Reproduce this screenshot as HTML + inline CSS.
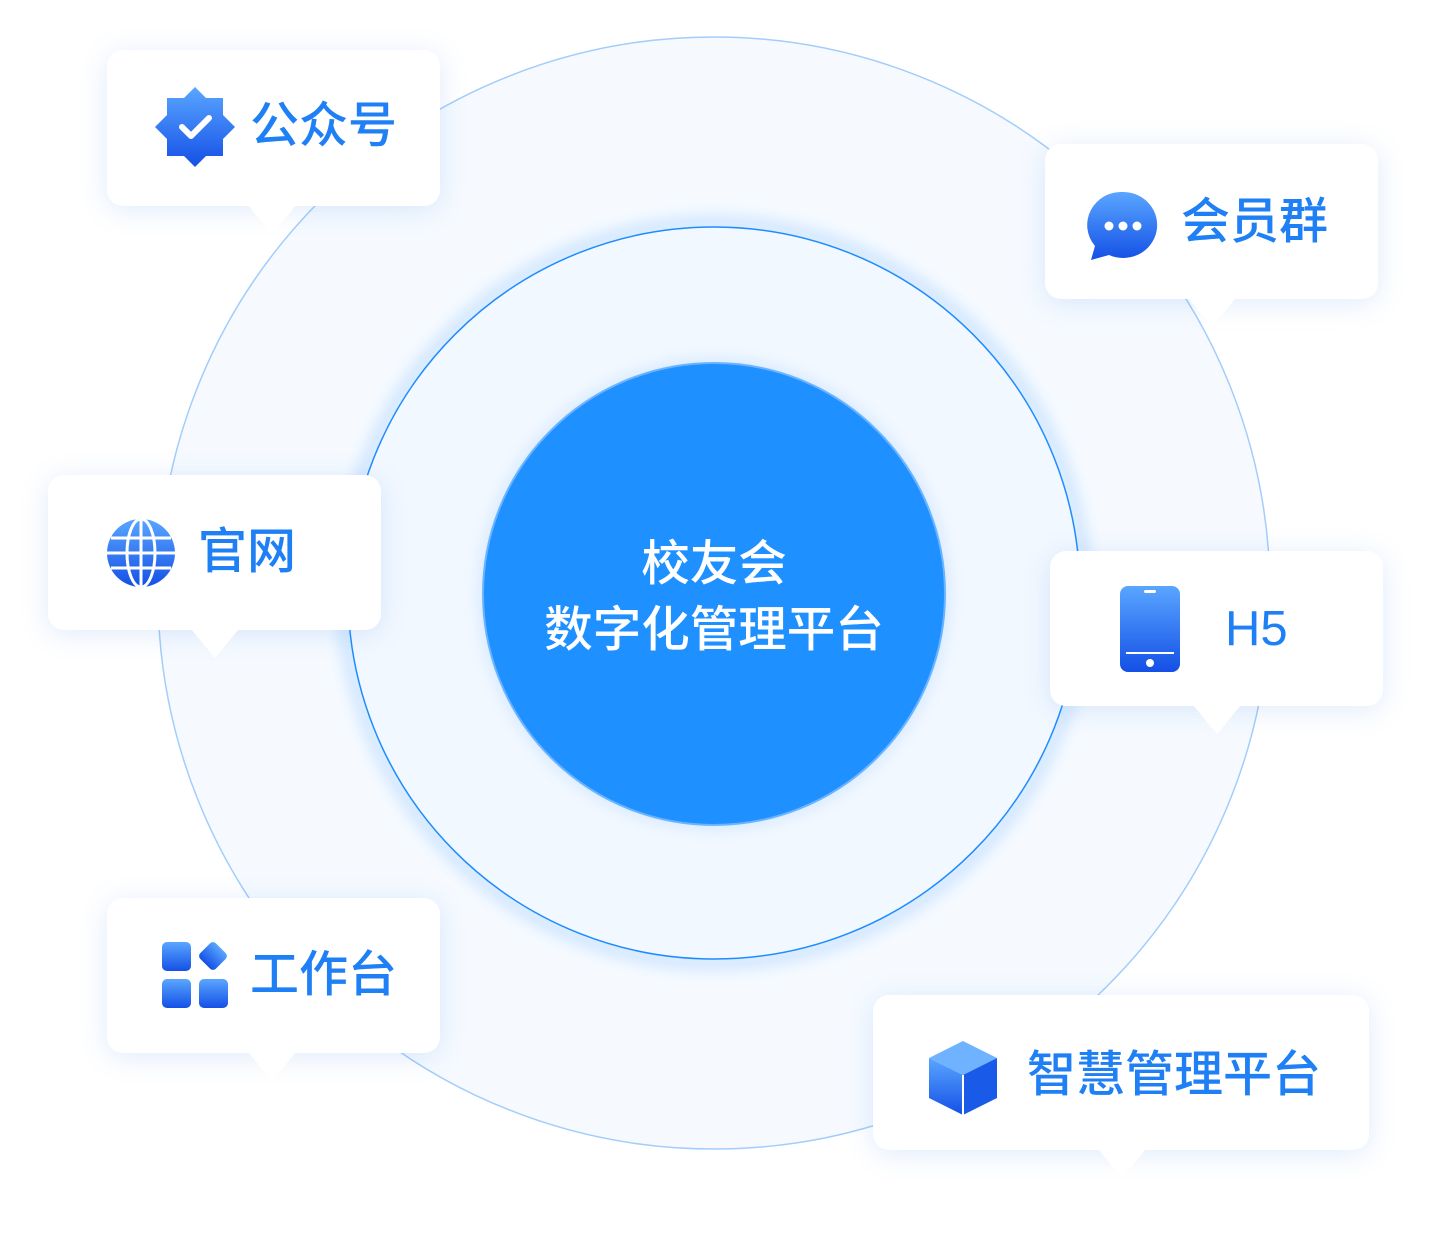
<!DOCTYPE html>
<html><head><meta charset="utf-8"><style>
html,body{margin:0;padding:0;background:#fff;}
body{width:1432px;height:1235px;position:relative;overflow:hidden;font-family:"Liberation Sans","Noto Sans CJK SC",sans-serif;}
.card{position:absolute;background:#fff;border-radius:16px;box-shadow:0 4px 28px rgba(60,130,230,0.16);}
.card:after{content:"";position:absolute;bottom:-28px;left:var(--px);margin-left:-24px;border-left:24px solid transparent;border-right:24px solid transparent;border-top:29px solid #fff;}
.lbl{position:absolute;color:#1f7ff5;font-size:49px;font-weight:500;line-height:1;white-space:nowrap;}
.ic{position:absolute;}
</style></head><body>
<svg width="1432" height="1235" style="position:absolute;left:0;top:0">
<defs>
<filter id="gl" x="-20%" y="-20%" width="140%" height="140%"><feGaussianBlur stdDeviation="8"/></filter>
<linearGradient id="g" x1="0" y1="0" x2="0" y2="1"><stop offset="0" stop-color="#5aa6ff"/><stop offset="1" stop-color="#1450e6"/></linearGradient>
</defs>
<circle cx="714" cy="593" r="556" fill="#f6faff" stroke="#a3cdfb" stroke-width="1.5"/>
<circle cx="714" cy="593" r="370" fill="none" stroke="#bcdcff" stroke-width="10" filter="url(#gl)"/>
<circle cx="714" cy="593" r="366" fill="#f2f8ff" stroke="#1e8cff" stroke-width="1.5"/>
<circle cx="714" cy="594" r="235" fill="#d4e8ff" filter="url(#gl)"/>
<circle cx="714" cy="594" r="231" fill="#1e90ff" stroke="#6ab4ff" stroke-width="2"/>
<text x="714" y="580" text-anchor="middle" fill="#fff" font-size="48.5" font-weight="500" font-family="Liberation Sans,Noto Sans CJK SC,sans-serif">校友会</text>
<text x="714" y="646" text-anchor="middle" fill="#fff" font-size="48.5" font-weight="500" font-family="Liberation Sans,Noto Sans CJK SC,sans-serif">数字化管理平台</text>
</svg>

<div class="card" style="left:107px;top:50px;width:333px;height:156px;--px:165px"></div>
<div class="card" style="left:1045px;top:144px;width:333px;height:155px;--px:167px"></div>
<div class="card" style="left:48px;top:475px;width:333px;height:155px;--px:167px"></div>
<div class="card" style="left:1050px;top:551px;width:333px;height:155px;--px:167px"></div>
<div class="card" style="left:107px;top:898px;width:333px;height:155px;--px:165px"></div>
<div class="card" style="left:873px;top:995px;width:496px;height:155px;--px:249px"></div>

<svg class="ic" style="left:154px;top:86px" width="82" height="82" viewBox="0 0 82 82"><polygon points="41,1 52,12 69,12 69,29 81,41 69,53 69,70 52,70 41,81 30,70 13,70 13,53 1,41 13,29 13,12 30,12" fill="url(#g)"/><polyline points="28,41 37,50 55,32" fill="none" stroke="#fff" stroke-width="6" stroke-linecap="round" stroke-linejoin="round"/></svg>
<div class="lbl" style="left:250px;top:102px">公众号</div>

<svg class="ic" style="left:1087px;top:190px" width="72" height="72" viewBox="0 0 72 72"><path d="M36 2a34 33 0 1 1-14 63L4 70l4-14A34 33 0 0 1 36 2z" fill="url(#g)"/><circle cx="22" cy="36" r="4.5" fill="#fff"/><circle cx="36" cy="36" r="4.5" fill="#fff"/><circle cx="50" cy="36" r="4.5" fill="#fff"/></svg>
<div class="lbl" style="left:1181px;top:198px">会员群</div>

<svg class="ic" style="left:106px;top:518px" width="70" height="70" viewBox="0 0 70 70"><circle cx="35" cy="35" r="34" fill="url(#g)"/><g fill="none" stroke="#fff" stroke-width="3"><ellipse cx="35" cy="35" rx="14" ry="34"/><line x1="35" y1="1" x2="35" y2="69"/><line x1="1" y1="35" x2="69" y2="35"/><line x1="5" y1="20" x2="65" y2="20"/><line x1="5" y1="50" x2="65" y2="50"/></g></svg>
<div class="lbl" style="left:198px;top:528px">官网</div>

<svg class="ic" style="left:1120px;top:586px" width="60" height="86" viewBox="0 0 60 86"><rect x="0" y="0" width="60" height="86" rx="8" fill="url(#g)"/><rect x="24" y="4" width="12" height="3" rx="1.5" fill="#fff"/><line x1="6" y1="67" x2="54" y2="67" stroke="#fff" stroke-width="2"/><circle cx="30" cy="77" r="4" fill="#fff"/></svg>
<div class="lbl" style="left:1225px;top:605px">H5</div>

<svg class="ic" style="left:162px;top:942px" width="68" height="68" viewBox="0 0 68 68"><rect x="0" y="0" width="29" height="29" rx="5" fill="url(#g)"/><rect x="0" y="37" width="29" height="29" rx="5" fill="url(#g)"/><rect x="37" y="37" width="29" height="29" rx="5" fill="url(#g)"/><rect x="40" y="3" width="22" height="22" rx="4" transform="rotate(45 51 14)" fill="url(#g)"/></svg>
<div class="lbl" style="left:250px;top:951px">工作台</div>

<svg class="ic" style="left:928px;top:1040px" width="70" height="76" viewBox="0 0 70 76"><polygon points="35,1 69,18 35,35 1,18" fill="#6fb2ff"/><polygon points="1,18 35,35 35,75 1,58" fill="url(#g)"/><polygon points="69,18 35,35 35,75 69,58" fill="#1a5ae8"/><path d="M35 35v40" stroke="#fff" stroke-width="2"/></svg>
<div class="lbl" style="left:1027px;top:1051px">智慧管理平台</div>
</body></html>
